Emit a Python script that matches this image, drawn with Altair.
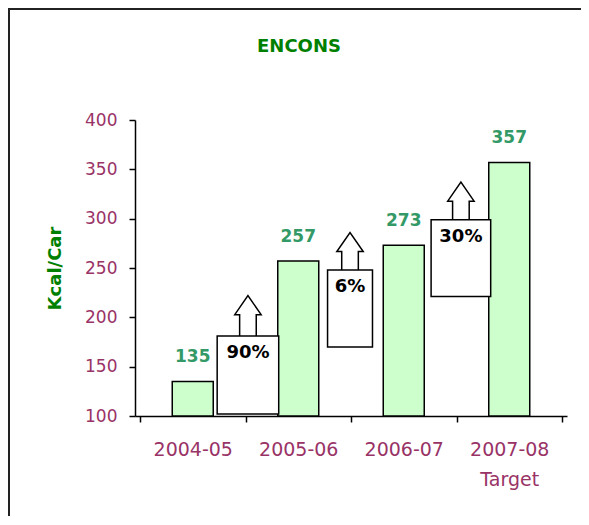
import json
import altair as alt
import pandas as pd

# ---- data ----
periods = ["2004-05", "2005-06", "2006-07", "2007-08"]
period_lines = [["2004-05"], ["2005-06"], ["2006-07"], ["2007-08", "Target"]]
kcal = [135, 257, 273, 357]

growth = ["90%", "6%", "30%"]          # growth call-outs between periods
box_low = [102, 170, 221]               # call-out box bottom (Kcal/Car)
box_high = [181, 248, 299]              # call-out box top (Kcal/Car)
arrow_tip = [222, 286, 337]             # arrow tip (Kcal/Car)

# ---- layout / style constants ----
W, H = 432, 296
Y_MIN, Y_MAX = 100, 400
ux = len(periods) / W                   # x units per pixel
uy = (Y_MAX - Y_MIN) / H                # y units per pixel
box_left_px = [-29, -24, -26]           # box edges relative to category boundary
box_right_px = [34, 22, 35]
shaft_px, head_px, head_h_px = 8.5, 13.5, 19

FONT = "DejaVu Sans"
LABEL_COLOR = "#993366"
GREEN = "#008000"
VALUE_COLOR = "#339966"

bars = pd.DataFrame({
    "period": periods,
    "center": [i + 0.5 for i in range(len(periods))],
    "kcal": kcal,
})

boxes = pd.DataFrame({
    "label": growth,
    "left": [i + 1 + box_left_px[i] * ux for i in range(len(growth))],
    "right": [i + 1 + box_right_px[i] * ux for i in range(len(growth))],
    "low": box_low,
    "high": box_high,
})
boxes["mid"] = (boxes["left"] + boxes["right"]) / 2

rows = []
for i in range(len(growth)):
    c = boxes["mid"][i]
    top = box_high[i]
    tip = arrow_tip[i]
    base = tip - head_h_px * uy
    s, h = shaft_px * ux, head_px * ux
    pts = [(c - s, top), (c - s, base), (c - h, base), (c, tip),
           (c + h, base), (c + s, base), (c + s, top)]
    for k, (px, py) in enumerate(pts):
        rows.append({"arrow": i, "k": k, "ax": px, "ay": py})
arrows = pd.DataFrame(rows)

xscale = alt.Scale(domain=[0, len(periods)], nice=False, zero=False)
yscale = alt.Scale(domain=[Y_MIN, Y_MAX], nice=False, zero=False)

label_arr = json.dumps(period_lines)
x_values = [v / 2 for v in range(0, 2 * len(periods) + 1)]

x_axis = alt.Axis(
    values=x_values,
    labelExpr=f"datum.value % 1 === 0 ? '' : {label_arr}[floor(datum.value)]",
    tickOpacity={"condition": {"test": "datum.value % 1 === 0", "value": 1}, "value": 0},
    grid=False, title=None, labelOverlap=False, labelFlush=False,
    labelColor=LABEL_COLOR, labelFontSize=19, labelFont=FONT,
    labelPadding=18, labelLineHeight=30, labelBaseline="top",
    tickSize=6, tickWidth=1.5, tickColor="black",
    domainColor="black", domainWidth=1.5,
)
y_axis = alt.Axis(
    values=list(range(Y_MIN, Y_MAX + 1, 50)),
    grid=False, title="Kcal/Car", titleColor=GREEN, titleFontSize=18,
    titleFontWeight="bold", titleFont=FONT, titleX=-80, titleY=H / 2,
    titleAngle=-90, titleBaseline="middle", titleAlign="center",
    labelColor=LABEL_COLOR, labelFontSize=17, labelFont=FONT, labelPadding=12,
    tickSize=6, tickWidth=1.5, tickColor="black",
    domainColor="black", domainWidth=1.5,
)


def X(field):
    return alt.X(field, scale=xscale, axis=x_axis)


def Y(field):
    return alt.Y(field, scale=yscale, axis=y_axis)


base_bars = alt.Chart(bars)
bar_layer = base_bars.mark_bar(width=41, fill="#CCFFCC", stroke="black", strokeWidth=1.5).encode(
    x=X("center:Q"),
    y=Y("kcal:Q"),
    y2=alt.datum(Y_MIN),
)
value_text = base_bars.mark_text(
    dy=-19, baseline="alphabetic", fontWeight="bold", fontSize=17, font=FONT, color=VALUE_COLOR
).encode(
    x=X("center:Q"),
    y=Y("kcal:Q"),
    text="kcal:Q",
)

box_layer = alt.Chart(boxes).mark_rect(fill="white", stroke="black", strokeWidth=1.5).encode(
    x=X("left:Q"),
    x2="right:Q",
    y=Y("low:Q"),
    y2="high:Q",
)
arrow_layer = alt.Chart(arrows).mark_line(color="black", strokeWidth=1.5, strokeJoin="miter").encode(
    x=X("ax:Q"),
    y=Y("ay:Q"),
    detail="arrow:N",
    order="k:Q",
)
growth_text = alt.Chart(boxes).mark_text(
    dy=22, baseline="alphabetic", align="center", fontWeight="bold", fontSize=18, font=FONT, color="black"
).encode(
    x=X("mid:Q"),
    y=Y("high:Q"),
    text="label:N",
)

# frame lines along the top and left edges of the picture
frame_top = alt.Chart(bars).mark_rule(color="#222222", strokeWidth=2).encode(
    x=alt.value(-127), x2=alt.value(446), y=alt.value(-111)
)
frame_left = alt.Chart(bars).mark_rule(color="#222222", strokeWidth=2).encode(
    x=alt.value(-126), y=alt.value(-112), y2=alt.value(396)
)

chart = alt.layer(
    bar_layer, box_layer, arrow_layer, value_text, growth_text, frame_top, frame_left
).properties(
    width=W, height=H,
    title=alt.Title("ENCONS", color=GREEN, fontSize=18, fontWeight="bold", font=FONT,
                    anchor="middle", dx=-52, offset=-49),
    autosize=alt.AutoSizeParams(type="none"),
    padding={"left": 127, "top": 112, "right": 14, "bottom": 100},
).configure(font=FONT).configure_view(stroke=None)

chart.save("out.html", embed_options={"renderer": "svg", "actions": False})
